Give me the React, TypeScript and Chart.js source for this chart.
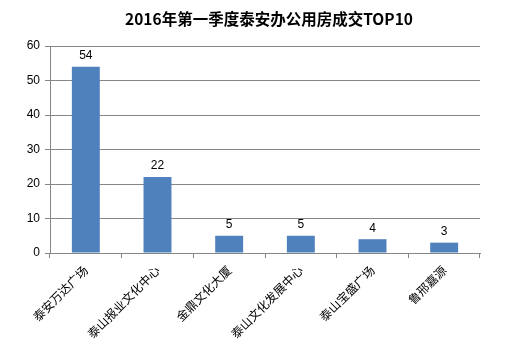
import React, { useEffect, useRef } from "react";
import { Chart, registerables } from "chart.js";

Chart.register(...registerables);

const categories = ["泰安万达广场", "泰山报业文化中心", "金鼎文化大厦", "泰山文化发展中心", "泰山宝盛广场", "鲁邢嘉源"];
const values = [54, 22, 5, 5, 4, 3];
const titleText = "2016年第一季度泰安办公用房成交TOP10";

const valueLabels = {
  id: "valueLabels",
  afterDatasetsDraw(chart: any) {
    const ctx = chart.ctx;
    const meta = chart.getDatasetMeta(0);
    ctx.save();
    ctx.font = "12px 'Liberation Sans', sans-serif";
    ctx.fillStyle = "#000";
    ctx.textAlign = "center";
    ctx.textBaseline = "bottom";
    meta.data.forEach((bar: any, i: number) => {
      ctx.fillText(String(values[i]), bar.x, bar.y - 5);
    });
    ctx.restore();
  },
};

const titleDraw = {
  id: "titleDraw",
  afterDraw(chart: any) {
    const ctx = chart.ctx;
    ctx.save();
    ctx.font = "bold 15.5px 'Noto Sans CJK SC', sans-serif";
    ctx.fillStyle = "#000";
    ctx.textAlign = "center";
    ctx.textBaseline = "middle";
    ctx.fillText(titleText, 269, 19);
    ctx.restore();
  },
};

export default function App() {
  const ref = useRef<HTMLCanvasElement>(null);
  useEffect(() => {
    document.body.style.margin = "0";
    const chart = new Chart(ref.current!, {
      type: "bar",
      data: {
        labels: categories,
        datasets: [
          {
            data: values,
            backgroundColor: "#4F81BD",
            categoryPercentage: 1,
            barPercentage: 0.39,
          },
        ],
      },
      options: {
        animation: false,
        responsive: false,
        layout: { padding: { left: 0, right: 38, top: 46, bottom: 0 } },
        plugins: {
          legend: { display: false },
          tooltip: { enabled: false },
          title: { display: false },
        },
        scales: {
          x: {
            offset: true,
            grid: { offset: true, drawOnChartArea: false, drawTicks: true, tickLength: 5, color: "#868686" },
            border: { color: "#868686" },
            ticks: {
              minRotation: 45,
              maxRotation: 45,
              color: "#000",
              font: { family: "'Noto Sans CJK SC', sans-serif", size: 12 },
              padding: 5,
            },
            afterFit: (s: any) => { s.height = 93; },
          },
          y: {
            min: 0,
            max: 60,
            ticks: {
              stepSize: 10,
              color: "#000",
              font: { family: "'Liberation Sans', sans-serif", size: 12 },
              padding: 5,
            },
            grid: { color: "#868686", tickLength: 5 },
            border: { color: "#868686" },
            afterFit: (s: any) => { s.width = 50; },
          },
        },
      },
      plugins: [valueLabels, titleDraw],
    });
    return () => chart.destroy();
  }, []);
  return <canvas ref={ref} width={518} height={346} style={{ display: "block" }} />;
}
